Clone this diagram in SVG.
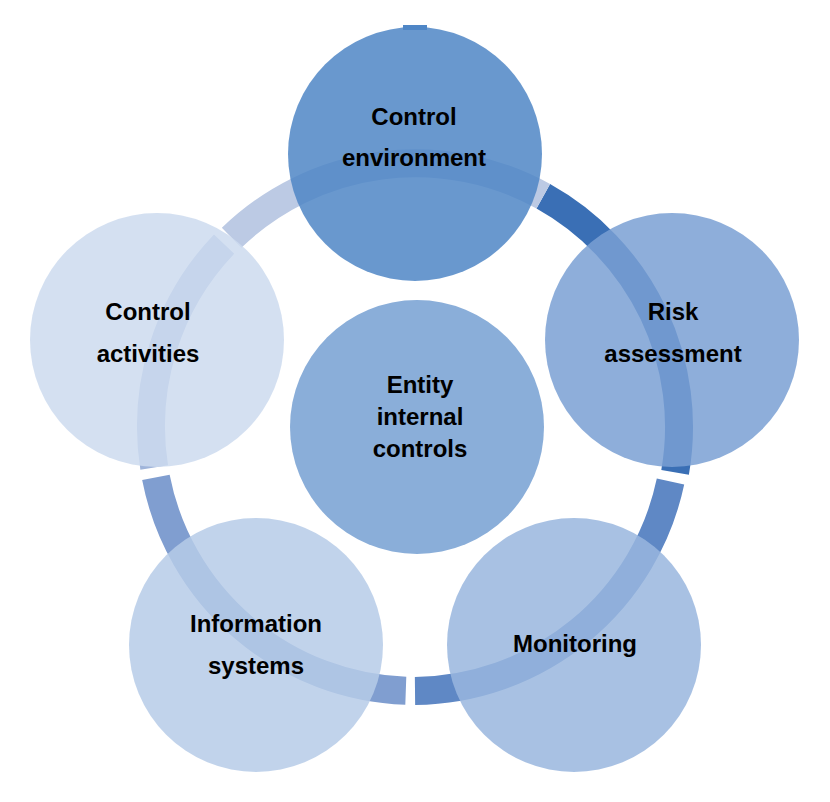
<svg xmlns="http://www.w3.org/2000/svg" width="830" height="802" viewBox="0 0 830 802">
<style>
text{font-family:"Liberation Sans",Arial,sans-serif;font-weight:bold;font-size:24px;fill:#000;text-anchor:middle}
.seg{fill:none;stroke-width:28}
.c{fill-opacity:0.85}
</style>
<rect width="830" height="802" fill="#fff"/>
<g id="connectors">
<path class="seg" stroke="#3a6fb5" d="M 543.3 196.3 A 264 264 0 0 1 675.1 472.4"/>
<path class="seg" stroke="#5f88c5" d="M 670.5 481.5 A 264 264 0 0 1 415.0 691.0" transform="rotate(0)"/>
<path class="seg" stroke="#809ed0" d="M 405.8 690.8 A 264 264 0 0 1 155.9 477.4"/>
<path class="seg" stroke="#9fb4da" d="M 154.2 467.5 A 264 264 0 0 1 224.1 244.1"/>
<path class="seg" stroke="#bccae4" d="M 231.6 237.8 A 264 264 0 0 1 543.3 196.3"/>
</g>
<g id="n-ce"><rect x="403" y="25" width="24" height="5" fill="#4f86c6"/><circle class="c" cx="415" cy="154" r="127" fill="#4f86c6"/><text x="414" y="125">Control</text><text x="414" y="166">environment</text></g>
<g id="n-ra"><circle class="c" cx="672" cy="340" r="127" fill="#7aa0d3"/><text x="673" y="320">Risk</text><text x="673" y="362">assessment</text></g>
<g id="n-mon"><circle class="c" cx="574" cy="645" r="127" fill="#99b6de"/><text x="575" y="652">Monitoring</text></g>
<g id="n-is"><circle class="c" cx="256" cy="645" r="127" fill="#b6cbe8"/><text x="256" y="632">Information</text><text x="256" y="674">systems</text></g>
<g id="n-ca"><circle class="c" cx="157" cy="340" r="127" fill="#ccdbef"/><text x="148" y="320">Control</text><text x="148" y="362">activities</text></g>
<g id="n-center"><circle cx="417" cy="427" r="127" fill="#8aaed9"/><text x="420" y="393">Entity</text><text x="420" y="425">internal</text><text x="420" y="457">controls</text></g>
</svg>
